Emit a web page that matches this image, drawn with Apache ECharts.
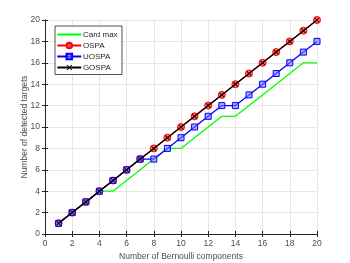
<!DOCTYPE html>
<html><head><meta charset="utf-8">
<script src="https://cdn.jsdelivr.net/npm/echarts@6/dist/echarts.min.js"></script>
<style>html,body{margin:0;padding:0;background:#fff}#c{width:350px;height:263px}</style>
</head><body><div id="c"></div>
<script>
var components = [1,2,3,4,5,6,7,8,9,10,11,12,13,14,15,16,17,18,19,20];
var cardMax = [1,2,3,4,4,5,6,7,8,8,9,10,11,11,12,13,14,15,16,16];
var ospa    = [1,2,3,4,5,6,7,8,9,10,11,12,13,14,15,16,17,18,19,20];
var uospa   = [1,2,3,4,5,6,7,7,8,9,10,11,12,12,13,14,15,16,17,18];
var gospa   = [1,2,3,4,5,6,7,8,9,10,11,12,13,14,15,16,17,18,19,20];
var xTicks = [0,2,4,6,8,10,12,14,16,18,20];
var yTicks = [0,2,4,6,8,10,12,14,16,18,20];

function pairs(ys){ return components.map(function(x,i){ return [x, ys[i]]; }); }
var FONT = 'Liberation Sans, Arial, sans-serif';
var TXT = '#4d4d4d';
var AX = '#262626';
var xMark = 'path://M0,1.2L1.2,0L5,3.8L8.8,0L10,1.2L6.2,5L10,8.8L8.8,10L5,6.2L1.2,10L0,8.8L3.8,5Z';

var chart = echarts.init(document.getElementById('c'), null, {renderer:'canvas'});
function axisBase(show){
  return {
    type:'value', min:0, max:20, interval:2,
    axisLine:{show:true, lineStyle:{color:AX, width:1}},
    axisTick:{show:true, inside:true, length:3, lineStyle:{color:AX}},
    axisLabel:{show:show, color:TXT, fontSize:8.5, fontFamily:FONT, margin:5},
    splitLine:{show:show, lineStyle:{color:'#e6e6e6', width:1}}
  };
}
var xa = axisBase(true);
xa.name = 'Number of Bernoulli components'; xa.nameLocation='middle'; xa.nameGap=18;
xa.nameMoveOverlap = false;
xa.nameTextStyle = {color:TXT, fontSize:8.5, fontFamily:FONT};
xa.axisLabel.formatter = function(v){ return xTicks.indexOf(v)>=0 ? String(v) : ''; };
var xa2 = axisBase(false); xa2.position='top';
var ya = axisBase(true);
ya.name = 'Number of detected targets'; ya.nameLocation='middle'; ya.nameGap=16;
ya.nameMoveOverlap = false;
ya.nameTextStyle = {color:TXT, fontSize:8.5, fontFamily:FONT};
ya.axisLabel.formatter = function(v){ return yTicks.indexOf(v)>=0 ? String(v) : ''; };
var ya2 = axisBase(false); ya2.position='right';

chart.setOption({
  animation:false,
  backgroundColor:'#fff',
  grid:{left:45, right:33, top:20, bottom:29, containLabel:false, outerBoundsMode:'none'},
  xAxis:[xa, xa2],
  yAxis:[ya, ya2],
  legend:{
    orient:'vertical', left:55, top:26, itemWidth:24, itemHeight:7, itemGap:3,
    padding:[4.5,4.4,3,1.3],
    backgroundColor:'#fff', borderColor:AX, borderWidth:0.8,
    textStyle:{color:'#262626', fontSize:8, lineHeight:7, fontFamily:FONT, padding:[0,0,0,-3.4]},
    data:[{name:'Card max', itemStyle:{color:'rgba(0,0,0,0)', borderColor:'rgba(0,0,0,0)', borderWidth:0}},'OSPA','UOSPA','GOSPA']
  },
  series:[
    {name:'Card max', type:'line', data:pairs(cardMax), showSymbol:false, symbol:'none',
     lineStyle:{color:'#00ff00', width:1.3}, itemStyle:{color:'#00ff00'}, z:2},
    {name:'OSPA', type:'line', data:pairs(ospa), symbol:'circle', symbolSize:7,
     lineStyle:{color:'#ff0000', width:1.3},
     itemStyle:{color:'rgba(255,80,80,0.85)', borderColor:'#ff0000', borderWidth:1}, z:3},
    {name:'UOSPA', type:'line', data:pairs(uospa), symbol:'rect', symbolSize:6,
     lineStyle:{color:'#0000ff', width:1.3},
     itemStyle:{color:'rgba(120,120,255,0.6)', borderColor:'#0000ff', borderWidth:1}, z:4},
    {name:'GOSPA', type:'line', data:pairs(gospa), symbol:xMark, symbolSize:5,
     lineStyle:{color:'#000000', width:1.3},
     itemStyle:{color:'#000000'}, z:5}
  ]
});
</script></body></html>
